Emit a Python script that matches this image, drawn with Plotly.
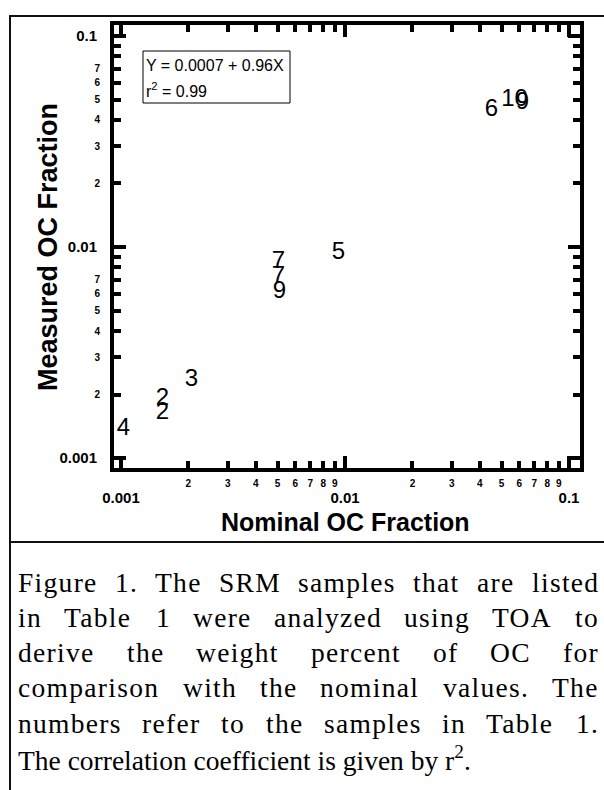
import plotly.graph_objects as go

# ---------------- data ----------------
labels = ["4", "2", "2", "3", "7", "7", "9", "5", "6", "10", "9"]
nominal = [0.001026, 0.001532, 0.001532, 0.002064, 0.005047, 0.005047, 0.005100,
           0.009354, 0.04508, 0.05709, 0.06199]
measured = [0.001372, 0.001904, 0.001634, 0.002343, 0.008489, 0.007208, 0.006118,
            0.009367, 0.04459, 0.04973, 0.04814]

major_vals = [0.001, 0.01, 0.1]
major_text = ["0.001", "0.01", "0.1"]
minor_vals = [m * d for d in (0.001, 0.01) for m in range(2, 10)]
x_minor_text = [str(m) for d in (0.001, 0.01) for m in range(2, 10)]
y_minor_text = [str(m) if m <= 7 else "" for d in (0.001, 0.01) for m in range(2, 10)]

fit_line1 = "Y = 0.0007 + 0.96X"
fit_line2 = "r<sup>2</sup> = 0.99"
x_title = "Nominal OC Fraction"
y_title = "Measured OC Fraction"
caption_lines = [
    "Figure 1. The SRM samples that are listed",
    "in Table 1 were analyzed using TOA to",
    "derive the weight percent of OC for",
    "comparison with the nominal values. The",
    "numbers refer to the samples in Table 1.",
]
caption_last = "The correlation coefficient is given by r<sup>2</sup>."

# ---------------- geometry ----------------
W, H = 604, 790
ML, MR, MT, MB = 114, 24, 25, 322
PW, PH = W - ML - MR, H - MT - MB


def px(x):
    return (x - ML) / PW


def py(y):
    return (H - MB - y) / PH


XR = [-3.031, -0.951]
YR = [-3.047, -0.948]

fig = go.Figure()
fig.add_trace(go.Scatter(
    x=nominal, y=measured, mode="text", text=labels,
    textposition="middle center",
    textfont=dict(family="Liberation Sans, Arial", size=24, color="black"),
    hoverinfo="skip", showlegend=False))
# helper trace to attach the label-only axes
fig.add_trace(go.Scatter(x=[None], y=[None], xaxis="x2", yaxis="y2",
                         showlegend=False, hoverinfo="skip"))

axis_common = dict(type="log", showgrid=False, zeroline=False,
                   tickcolor="black")
BOLD15 = dict(family="Liberation Sans, Arial", size=15, color="black", weight="bold")
BOLD10 = dict(family="Liberation Sans, Arial", size=10, color="black", weight="bold")

fig.update_layout(
    width=W, height=H, autosize=False,
    margin=dict(l=ML, r=MR, t=MT, b=MB, pad=0),
    paper_bgcolor="white", plot_bgcolor="white",
    showlegend=False,
    xaxis=dict(**axis_common, range=XR, showline=True, linewidth=4,
               linecolor="black", mirror="allticks", ticks="inside",
               ticklen=12, tickwidth=4, tickmode="array",
               tickvals=major_vals, ticktext=major_text,
               tickfont=BOLD15, ticklabelstandoff=13,
               minor=dict(tickmode="array", tickvals=minor_vals, ticks="inside",
                          ticklen=7, tickwidth=4, tickcolor="black")),
    yaxis=dict(**axis_common, range=YR, showline=True, linewidth=4,
               linecolor="black", mirror="allticks", ticks="inside",
               ticklen=12, tickwidth=4, tickmode="array",
               tickvals=major_vals, ticktext=major_text,
               tickfont=BOLD15, ticklabelstandoff=10,
               minor=dict(tickmode="array", tickvals=minor_vals, ticks="inside",
                          ticklen=7, tickwidth=4, tickcolor="black")),
    xaxis2=dict(**axis_common, range=XR, overlaying="x", anchor="y2", side="bottom",
                showline=False, ticks="", tickmode="array",
                tickvals=minor_vals, ticktext=x_minor_text,
                tickfont=BOLD10, ticklabelstandoff=8),
    yaxis2=dict(**axis_common, range=YR, overlaying="y", anchor="x2", side="left",
                showline=False, ticks="", tickmode="array",
                tickvals=minor_vals, ticktext=y_minor_text,
                tickfont=BOLD10, ticklabelstandoff=13),
)

annotations = []
shapes = []

# axis titles
annotations.append(dict(xref="paper", yref="paper", x=px(345), y=py(522),
                        text=x_title, showarrow=False, xanchor="center", yanchor="middle",
                        font=dict(family="Liberation Sans, Arial", size=25,
                                  color="black", weight="bold")))
annotations.append(dict(xref="paper", yref="paper", x=px(48), y=py(247),
                        text=y_title, showarrow=False, textangle=-90,
                        xanchor="center", yanchor="middle",
                        font=dict(family="Liberation Sans, Arial", size=27,
                                  color="black", weight="bold")))

# fit box
shapes.append(dict(type="rect", xref="paper", yref="paper",
                   x0=px(143), x1=px(290), y0=py(103), y1=py(51),
                   line=dict(color="black", width=1), fillcolor="white", layer="below"))
annotations.append(dict(xref="paper", yref="paper", x=px(144), y=py(65),
                        text=fit_line1, showarrow=False, xanchor="left", yanchor="middle",
                        font=dict(family="Liberation Sans, Arial", size=16, color="black")))
annotations.append(dict(xref="paper", yref="paper", x=px(144), y=py(90),
                        text=fit_line2, showarrow=False, xanchor="left", yanchor="middle",
                        font=dict(family="Liberation Sans, Arial", size=16, color="black")))

# frame lines
LINE = dict(color="#111111", width=2)
shapes.append(dict(type="line", xref="paper", yref="paper",
                   x0=px(9), x1=px(604), y0=py(16), y1=py(16), line=LINE))
shapes.append(dict(type="line", xref="paper", yref="paper",
                   x0=px(10), x1=px(10), y0=py(16), y1=py(790), line=LINE))
shapes.append(dict(type="line", xref="paper", yref="paper",
                   x0=px(10), x1=px(604), y0=py(542), y1=py(542), line=LINE))

# caption (justified with expanded letter spacing) -- Times New Roman metrics
TW = {' ': 250, '.': 250, '1': 500, '2': 500,
      'a': 444, 'b': 500, 'c': 444, 'd': 500, 'e': 444, 'f': 333, 'g': 500, 'h': 500,
      'i': 278, 'j': 278, 'k': 500, 'l': 278, 'm': 778, 'n': 500, 'o': 500, 'p': 500,
      'q': 500, 'r': 333, 's': 389, 't': 278, 'u': 500, 'v': 500, 'w': 722, 'x': 500,
      'y': 500, 'z': 444,
      'A': 722, 'C': 667, 'F': 556, 'M': 889, 'O': 722, 'R': 667, 'S': 556, 'T': 611}
CAP_SIZE = 27.5
CAP_LS = 1.3
CAP_L, CAP_R = 17, 598
CAP_Y0, CAP_DY = 582, 35.3
CAP_FONT = dict(family="Liberation Serif, Times New Roman", size=CAP_SIZE, color="black")


def wwidth(word):
    return sum(TW.get(c, 500) for c in word) / 1000.0 * CAP_SIZE + CAP_LS * len(word)


for i, line in enumerate(caption_lines):
    words = line.split(" ")
    widths = [wwidth(w) for w in words]
    gap = (CAP_R - CAP_L - sum(widths)) / (len(words) - 1)
    xcur = CAP_L
    for w, wd in zip(words, widths):
        annotations.append(dict(xref="paper", yref="paper", x=px(xcur), y=py(CAP_Y0 + i * CAP_DY),
                                text=f'<span style="letter-spacing:{CAP_LS}px">{w}</span>',
                                showarrow=False, xanchor="left", yanchor="middle",
                                borderpad=0, font=CAP_FONT))
        xcur += wd + gap
annotations.append(dict(xref="paper", yref="paper", x=px(CAP_L),
                        y=py(CAP_Y0 + len(caption_lines) * CAP_DY),
                        text=caption_last, showarrow=False, xanchor="left", yanchor="middle",
                        borderpad=0, font=CAP_FONT))

fig.update_layout(annotations=annotations, shapes=shapes)
fig.write_html("out.html")
